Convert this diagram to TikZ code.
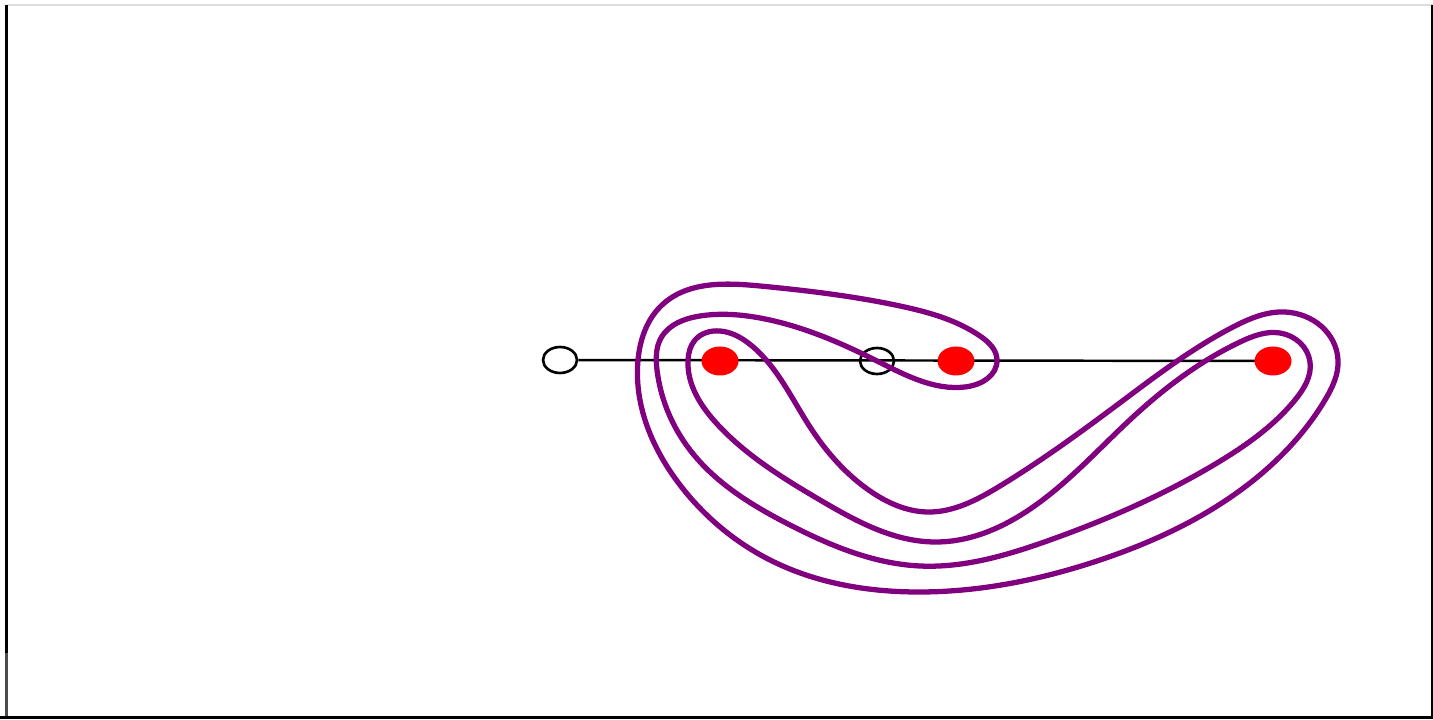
\documentclass[tikz,border=0pt]{standalone}
\usepackage{tikz}
\usetikzlibrary{shapes.geometric,positioning,hobby}
\usepackage{xcolor}
\definecolor{curvecol}{RGB}{128,0,128}
\definecolor{ptred}{RGB}{255,0,0}
\definecolor{framegray}{RGB}{221,221,221}
\tikzset{
  openpt/.style={ellipse,draw=black,line width=0.75pt,minimum width=0.34cm,minimum height=0.26cm,inner sep=0pt},
  redpt/.style={ellipse,fill=ptred,minimum width=0.37cm,minimum height=0.29cm,inner sep=0pt},
  loopcurve/.style={curvecol,line width=1.5pt}
}

\begin{document}
\begin{tikzpicture}
\useasboundingbox (0,0) rectangle (14.33,7.19);
% frame
\draw[framegray,line width=0.45pt] (0.065,7.14) -- (14.33,7.14);
\draw[black,line width=0.85pt] (0.065,7.14) -- (0.065,0.66);
\draw[black!70,line width=0.85pt] (0.065,0.66) -- (0.065,0);
\draw[black,line width=0.6pt] (14.32,7.14) -- (14.32,0);
\draw[black,line width=0.6pt] (0,0.015) -- (14.33,0.015);
% points on the line
\node[openpt] (c1) at (5.60,3.59) {};
\node[openpt] (c2) at (8.77,3.58) {};
\coordinate (r1pos) at (7.20,3.58);
\coordinate (r2pos) at (9.56,3.58);
\coordinate (r3pos) at (12.73,3.58);
\draw[line width=0.7pt] (c1) -- (r3pos);
\node[redpt] (r1) at (r1pos) {};
\node[redpt] (r2) at (r2pos) {};
\node[redpt] (r3) at (r3pos) {};
% the closed curve
\draw[loopcurve] plot[closed hobby] coordinates {
  (7.20,3.88) (7.52,3.73) (8.10,2.92) (8.70,2.28) (9.28,2.07) (10.00,2.33)
  (11.17,3.14) (12.33,3.92) (12.85,4.07) (13.38,3.59) (13.25,3.19) (12.50,2.36)
  (11.00,1.59) (9.20,1.27) (7.70,1.59) (6.80,2.34) (6.38,3.59) (6.62,4.14)
  (7.60,4.33) (9.00,4.13) (9.80,3.83) (9.97,3.59) (9.65,3.32) (8.77,3.58)
  (7.60,4.01) (7.00,4.03) (6.61,3.81) (6.57,3.49) (6.90,2.69) (7.90,1.94)
  (9.20,1.53) (10.50,1.79) (12.17,2.56) (12.95,3.19) (13.10,3.57) (12.80,3.86)
  (12.40,3.77) (11.33,3.02) (10.40,2.17) (9.35,1.77) (8.20,2.19) (7.18,2.94)
  (6.88,3.59) (6.95,3.79)};
\end{tikzpicture}
\end{document}
